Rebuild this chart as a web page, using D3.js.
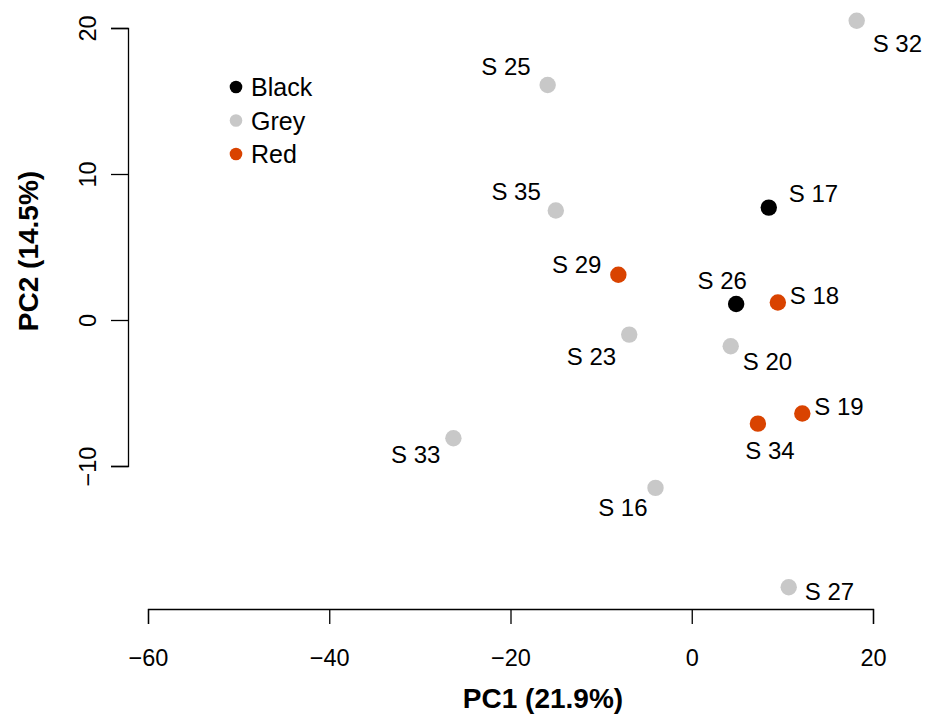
<!DOCTYPE html>
<html>
<head>
<meta charset="utf-8">
<script src="https://cdn.jsdelivr.net/npm/d3@7"></script>
<style>
  html, body { margin: 0; padding: 0; background: #fff; }
  svg { display: block; font-family: "Liberation Sans", Arial, Helvetica, sans-serif; }
</style>
</head>
<body>
<svg id="chart" width="926" height="715"></svg>
<script>
// PCA scores per sample
const samples = ["S 32", "S 25", "S 35", "S 17", "S 29", "S 26", "S 18", "S 23", "S 20", "S 19", "S 34", "S 33", "S 16", "S 27"];
const pc1 = [18.2, -15.9, -15.0, 8.5, -8.1, 4.9, 9.5, -6.9, 4.3, 12.2, 7.3, -26.3, -4.0, 10.7];
const pc2 = [20.5, 16.1, 7.5, 7.7, 3.1, 1.1, 1.2, -1.0, -1.8, -6.4, -7.1, -8.1, -11.5, -18.3];
const group = ["Grey", "Grey", "Grey", "Black", "Red", "Black", "Red", "Grey", "Grey", "Red", "Red", "Grey", "Grey", "Grey"];

const groups = ["Black", "Grey", "Red"];
const groupColors = ["#000000", "#c8c8c8", "#d94300"];

const xTicks = [-60, -40, -20, 0, 20];
const yTicks = [-10, 0, 10, 20];
const xTitle = "PC1 (21.9%)";
const yTitle = "PC2 (14.5%)";

// label nudges (pixels from the point to the text anchor / baseline), repelled layout
const labelDx = [16, -17, -15, 20, -17, -14, 12, -13, 12, 12, 12, -13, -8, 16];
const labelDy = [31, -10, -11, -6, -2, -15, 2, 30, 24, 2, 35, 25, 28, 13];
const labelAnchor = ["start", "end", "end", "start", "end", "middle", "start", "end", "start", "start", "middle", "end", "end", "start"];

const svg = d3.select("#chart");
const color = d3.scaleOrdinal().domain(groups).range(groupColors);

const x = d3.scaleLinear().domain([-60, 20]).range([148, 873]);
const y = d3.scaleLinear().domain([-10, 20]).range([466, 28]);
const yBottom = 609, xLeft = 128;
const fmt = d => d < 0 ? "\u2212" + Math.abs(d) : d;

// x axis
const xAxis = svg.append("g")
  .attr("transform", `translate(0,${yBottom})`)
  .call(d3.axisBottom(x).tickValues(xTicks).tickSize(15).tickFormat(fmt));
xAxis.select(".domain").attr("stroke", "#000").attr("stroke-width", 1.3);
xAxis.selectAll(".tick line").attr("stroke", "#000").attr("stroke-width", 1.3);
xAxis.selectAll(".tick text")
  .attr("font-size", 23.5).attr("fill", "#000")
  .attr("font-family", "'Liberation Sans', Arial, sans-serif")
  .attr("y", 57).attr("dy", null);

// y axis
const yAxis = svg.append("g")
  .attr("transform", `translate(${xLeft},0)`)
  .call(d3.axisLeft(y).tickValues(yTicks).tickSize(17).tickFormat(fmt));
yAxis.select(".domain").attr("stroke", "#000").attr("stroke-width", 1.3);
yAxis.selectAll(".tick line").attr("stroke", "#000").attr("stroke-width", 1.3);
yAxis.selectAll(".tick text")
  .attr("font-size", 23.5).attr("fill", "#000")
  .attr("font-family", "'Liberation Sans', Arial, sans-serif")
  .attr("x", null).attr("dy", null).attr("y", 0)
  .attr("text-anchor", "middle")
  .attr("transform", "translate(-32,0) rotate(-90)");

// axis titles
svg.append("text")
  .attr("x", 543).attr("y", 708)
  .attr("text-anchor", "middle")
  .attr("font-size", 28).attr("font-weight", "bold")
  .text(xTitle);
svg.append("text")
  .attr("transform", `translate(38,251) rotate(-90)`)
  .attr("text-anchor", "middle")
  .attr("font-size", 28).attr("font-weight", "bold")
  .text(yTitle);

// points
const data = samples.map((s, i) => ({
  name: s, x: pc1[i], y: pc2[i], g: group[i],
  dx: labelDx[i], dy: labelDy[i], anchor: labelAnchor[i]
}));

svg.append("g").selectAll("circle").data(data).join("circle")
  .attr("cx", d => x(d.x)).attr("cy", d => y(d.y))
  .attr("r", 8.2)
  .attr("fill", d => color(d.g));

// point labels
svg.append("g").selectAll("text").data(data).join("text")
  .attr("x", d => x(d.x) + d.dx)
  .attr("y", d => y(d.y) + d.dy)
  .attr("text-anchor", d => d.anchor)
  .attr("font-size", 24)
  .text(d => d.name);

// legend
const legend = svg.append("g").attr("transform", "translate(236,87)");
const li = legend.selectAll("g").data(groups).join("g")
  .attr("transform", (d, i) => `translate(0,${i * 33.5})`);
li.append("circle").attr("r", 6.3).attr("fill", d => color(d));
li.append("text").attr("x", 15).attr("y", 9).attr("font-size", 25).text(d => d);
</script>
</body>
</html>
